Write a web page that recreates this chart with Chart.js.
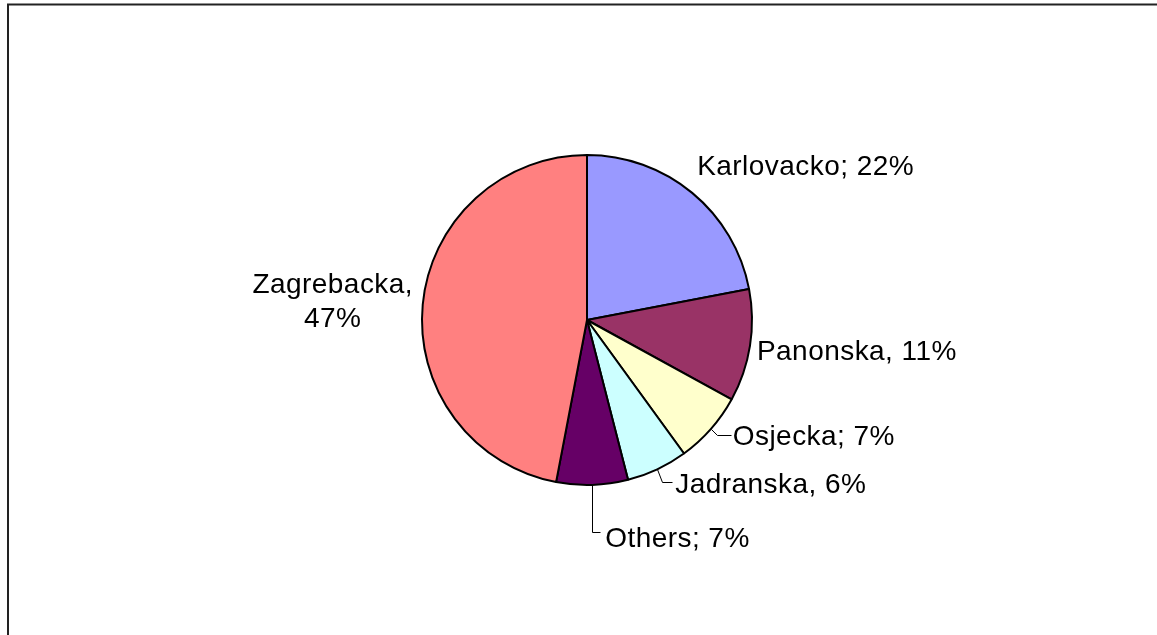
<!DOCTYPE html>
<html>
<head>
<meta charset="utf-8">
<script src="https://cdn.jsdelivr.net/npm/chart.js@4.4.0/dist/chart.umd.min.js"></script>
<style>
  html,body{margin:0;padding:0;background:#fff;}
  #wrap{position:relative;width:1157px;height:635px;}
</style>
</head>
<body>
<div id="wrap"><canvas id="pie" width="1157" height="635"></canvas></div>
<script>
/* dados */
const regions = ['Karlovacko','Panonska','Osjecka','Jadranska','Others','Zagrebacka'];
const shares  = [22, 11, 7, 6, 7, 47];
const labelTexts = [
  ['Karlovacko; 22%'],
  ['Panonska, 11%'],
  ['Osjecka; 7%'],
  ['Jadranska, 6%'],
  ['Others; 7%'],
  ['Zagrebacka,','47%']
];
const sliceColors = ['#9999FF','#993366','#FFFFCC','#CCFFFF','#660066','#FF8080'];

/* posição dos rótulos relativa ao ponto médio do arco (dx,dy = linha base do texto) */
const labelStyle = [
  {dx:5,  dy:-18, align:'left'},
  {dx:7,  dy:14,  align:'left'},
  {dx:22, dy:16,  align:'left', leader:[[6,6],[20,6]]},
  {dx:18, dy:24,  align:'left', leader:[[5,13],[15,13]]},
  {dx:13, dy:62,  align:'left', leader:[[0,47],[8,47]]},
  {dx:-90,dy:-11, align:'center'}
];

const frameBox = {
  id:'frameBox',
  beforeDraw(chart){
    const c=chart.ctx;
    c.save();
    c.fillStyle='#fff'; c.fillRect(0,0,chart.width,chart.height);
    c.strokeStyle='#222'; c.lineWidth=2;
    c.beginPath();
    c.moveTo(8,chart.height+5); c.lineTo(8,4.5); c.lineTo(chart.width+5,4.5);
    c.stroke();
    c.restore();
  }
};

const pieLabels = {
  id:'pieLabels',
  afterDatasetsDraw(chart){
    const c=chart.ctx;
    const meta=chart.getDatasetMeta(0);
    c.save();
    c.font='28px "Liberation Sans", Arial, sans-serif';
    c.letterSpacing='0.45px';
    c.fillStyle='#000'; c.strokeStyle='#000'; c.lineWidth=1;
    c.textBaseline='alphabetic';
    meta.data.forEach((arc,i)=>{
      const {x,y,startAngle,endAngle,outerRadius}=arc.getProps(['x','y','startAngle','endAngle','outerRadius'],true);
      const mid=(startAngle+endAngle)/2;
      const px=x+Math.cos(mid)*outerRadius, py=y+Math.sin(mid)*outerRadius;
      const st=labelStyle[i];
      if(st.leader){
        c.beginPath();
        c.moveTo(Math.round(px)+0.5,Math.round(py)+0.5);
        st.leader.forEach(p=>c.lineTo(Math.round(px+p[0])+0.5,Math.round(py+p[1])+0.5));
        c.stroke();
      }
      c.textAlign=st.align;
      labelTexts[i].forEach((t,k)=>c.fillText(t,px+st.dx,py+st.dy+k*34));
    });
    c.restore();
  }
};

new Chart(document.getElementById('pie'),{
  type:'pie',
  data:{
    labels:regions,
    datasets:[{
      data:shares,
      backgroundColor:sliceColors,
      borderColor:'#000',
      borderWidth:2
    }]
  },
  options:{
    responsive:false,
    animation:false,
    layout:{padding:{top:154,bottom:149,left:200,right:183}},
    plugins:{legend:{display:false},tooltip:{enabled:false}}
  },
  plugins:[frameBox,pieLabels]
});
</script>
</body>
</html>
